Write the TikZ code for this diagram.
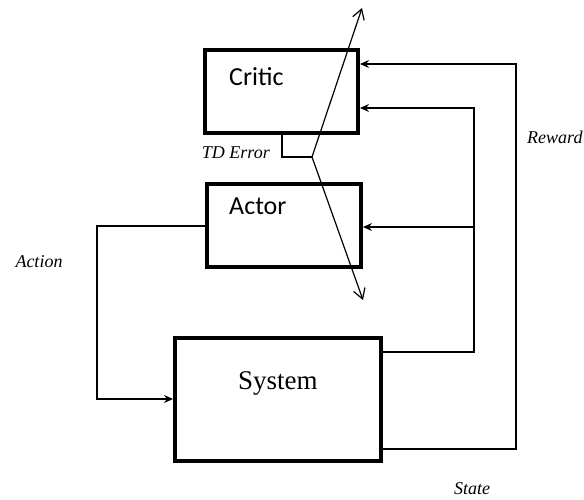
\documentclass[tikz,border=0pt]{standalone}
\usepackage{fontspec}
\setmainfont{Liberation Serif}
\newfontfamily\boxfont{Carlito}
\usepackage{tikz}
\usetikzlibrary{arrows.meta}

\tikzset{
  blk/.style={draw, line width=4pt, minimum width=#1, inner sep=0pt},
  blktext/.style={anchor=west, inner sep=0pt, font=\boxfont\fontsize{26}{28}\selectfont},
  sig/.style={line width=1.2pt},
  lbl/.style={inner sep=0pt, font=\itshape\fontsize{18}{20}\selectfont}
}

\begin{document}
\begin{tikzpicture}[x=1pt, y=-1pt, >={Stealth[length=9pt, width=8pt, inset=3pt]}] % 単位はpt、y軸は下向き
  \useasboundingbox (0,0) rectangle (584,500); % 図の大きさ

  \node[blk=153pt, minimum height=83pt] (critic) at (281.5,91.5) {}; % Critic
  \node[blk=154pt, minimum height=83pt] (actor) at (284,225.5) {}; % Actor
  \node[blk=206pt, minimum height=123pt] (system) at (278,399.5) {}; % System
  \node[blktext] (critictxt) at (229,77) {Critic};
  \node[blktext] (actortxt) at (229,206) {Actor};
  \node[anchor=base west, inner sep=0pt, font=\fontsize{27}{30}\selectfont] (systemtxt) at (238,389) {System};

  % Action
  \coordinate (a1) at (97,226);
  \coordinate (a2) at (97,399);
  \draw[sig, ->] (actor.west |- a1) -- (a1) -- (a2) -- (system.west |- a2);
  \node[lbl] (action) at (39,262) {Action};

  % State
  \coordinate (s0) at (system.east |- 0,352);
  \coordinate (s1) at (474,352);
  \coordinate (s2) at (474,108);
  \coordinate (s3) at (474,227);
  \draw[sig, ->] (s0) -- (s1) -- (s2) -- (critic.east |- s2);
  \draw[sig, ->] (s3) -- (actor.east |- s3);
  \node[lbl] (state) at (472,489) {State};

  % Reward
  \coordinate (r0) at (system.east |- 0,449);
  \coordinate (r1) at (516,449);
  \coordinate (r2) at (516,64);
  \draw[sig, ->] (r0) -- (r1) -- (r2) -- (critic.east |- r2);
  \node[lbl, anchor=west] (reward) at (527,137) {Reward};

  % TD Error
  \coordinate (t0) at (282,135);
  \coordinate (t1) at (282,157);
  \coordinate (tj) at (312,157);
  \coordinate (tup) at (362,8);
  \coordinate (tdown) at (363,300);
  \draw[sig] (t0) -- (t1) -- (tj);
  \draw[sig, -{Straight Barb[length=10pt, width=12pt]}] (tj) -- (tup);
  \draw[sig, -{Straight Barb[length=10pt, width=12pt]}] (tj) -- (tdown);
  \node[lbl, anchor=east] (tderr) at (270,153) {TD Error};
\end{tikzpicture}
\end{document}
